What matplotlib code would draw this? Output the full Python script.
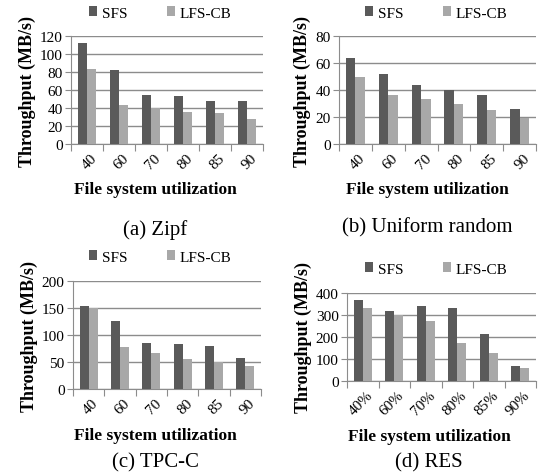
import matplotlib.pyplot as plt
import numpy as np

plt.rcParams['font.family'] = ['Liberation Serif', 'DejaVu Serif']

util = ['40', '60', '70', '80', '85', '90']
util_pct = ['40%', '60%', '70%', '80%', '85%', '90%']

zipf_sfs = [112, 82, 54, 53, 48, 47.5]
zipf_lfs = [83, 43, 40, 36, 35, 28]

unif_sfs = [63.5, 51.5, 43.5, 40, 36.5, 26]
unif_lfs = [49.5, 36, 33, 30, 25.5, 19]

tpcc_sfs = [153, 126, 86, 83, 80, 58]
tpcc_lfs = [150, 77, 66, 55, 50, 42]

res_sfs = [368, 320, 343, 330, 212, 70]
res_lfs = [330, 300, 273, 175, 127, 60]

W, H = 538, 477
fig = plt.figure(figsize=(W / 100, H / 100), dpi=100)

SFS_C = '#5a5a5a'
LFS_C = '#a8a8a8'
GRID_C = '#8c8c8c'


def px_axes(left, right, top, bottom):
    return fig.add_axes([left / W, 1 - bottom / H, (right - left) / W, (bottom - top) / H])


def panel(box, sfs, lfs, labels, ymax, ystep, caption, cap_xy, xl_y, leg_xy):
    ax = px_axes(*box)
    x = np.arange(len(labels))
    bw = 0.29
    ax.bar(x - bw / 2, sfs, bw, color=SFS_C, label='SFS', zorder=3)
    ax.bar(x + bw / 2, lfs, bw, color=LFS_C, label='LFS-CB', zorder=3)
    ax.set_xlim(-0.5, len(labels) - 0.5)
    ax.set_ylim(0, ymax)
    ax.set_yticks(np.arange(0, ymax + 1, ystep))
    ax.yaxis.grid(True, color=GRID_C, lw=1, zorder=0)
    for s in ['top', 'right']:
        ax.spines[s].set_visible(False)
    for s in ['left', 'bottom']:
        ax.spines[s].set_color(GRID_C)
    ax.set_xticks(np.arange(-0.5, len(labels), 1))
    ax.set_xticklabels([])
    ax.set_xticks(x + 0.1, minor=True)
    ax.set_xticklabels(labels, minor=True, rotation=45, ha='right',
                       rotation_mode='anchor', fontsize=11)
    ax.tick_params(axis='x', which='minor', length=0, pad=5)
    ax.tick_params(axis='x', which='major', length=5, color=GRID_C)
    ax.tick_params(axis='y', length=4, color=GRID_C, labelsize=11, pad=2)
    ax.set_ylabel('Throughput (MB/s)', fontweight='bold', fontsize=13, labelpad=3)
    fig.text(cap_xy[0] / W, 1 - xl_y / H, 'File system utilization',
             ha='center', va='center', fontweight='bold', fontsize=12.5)
    fig.text(cap_xy[0] / W, 1 - cap_xy[1] / H, caption, ha='center', va='center', fontsize=15)
    ax.legend(loc='center', bbox_to_anchor=(leg_xy[0] / W, 1 - leg_xy[1] / H),
              bbox_transform=fig.transFigure, ncol=2, frameon=False, fontsize=11,
              handlelength=0.55, handleheight=0.55, handletextpad=0.3, columnspacing=2.6)
    return ax


panel((71, 263, 37, 145), zipf_sfs, zipf_lfs, util, 120, 20, '(a) Zipf', (155, 230), 190, (160, 14))
panel((339, 536, 37, 145), unif_sfs, unif_lfs, util, 80, 20, '(b) Uniform random', (427, 228), 190, (436, 14))
panel((73, 261, 282, 390), tpcc_sfs, tpcc_lfs, util, 200, 50, '(c) TPC-C', (155, 463), 436, (160, 258))
panel((347, 536, 294, 382), res_sfs, res_lfs, util_pct, 400, 100, '(d) RES', (429, 463), 437, (436, 270))

fig.savefig('out.png', dpi=100)
